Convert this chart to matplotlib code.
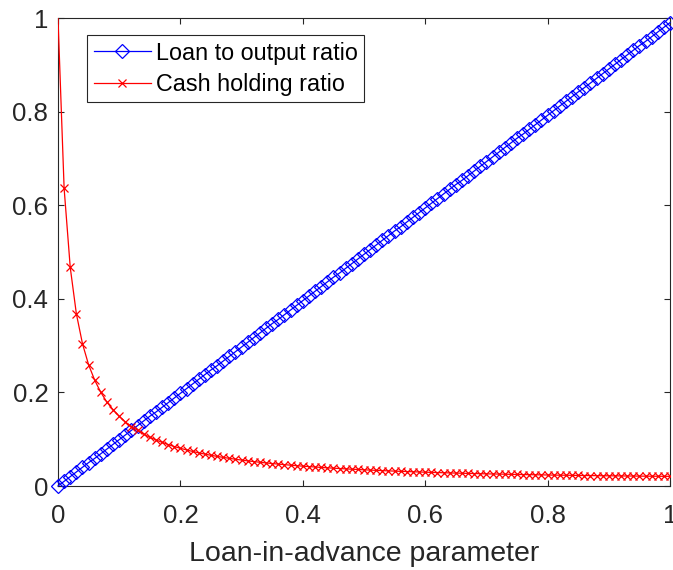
import numpy as np
import matplotlib
matplotlib.use("Agg")
import matplotlib.pyplot as plt
from matplotlib.ticker import FixedLocator, FuncFormatter

plt.rcParams['font.family'] = ['Liberation Sans', 'DejaVu Sans']

# Loan-in-advance parameter grid (0 to 1 in steps of 0.01)
loan_param = np.round(np.arange(101) * 0.01, 2)

loan_to_output = [
    0.000, 0.010, 0.020, 0.030, 0.040, 0.050, 0.059, 0.069, 0.079, 0.089,
    0.099, 0.109, 0.119, 0.129, 0.139, 0.149, 0.158, 0.168, 0.178, 0.188,
    0.198, 0.208, 0.218, 0.228, 0.238, 0.248, 0.257, 0.267, 0.277, 0.287,
    0.297, 0.307, 0.317, 0.327, 0.337, 0.347, 0.356, 0.366, 0.376, 0.386,
    0.396, 0.406, 0.416, 0.426, 0.436, 0.446, 0.455, 0.465, 0.475, 0.485,
    0.495, 0.505, 0.515, 0.525, 0.535, 0.545, 0.554, 0.564, 0.574, 0.584,
    0.594, 0.604, 0.614, 0.624, 0.634, 0.644, 0.653, 0.663, 0.673, 0.683,
    0.693, 0.703, 0.713, 0.723, 0.733, 0.743, 0.752, 0.762, 0.772, 0.782,
    0.792, 0.802, 0.812, 0.822, 0.832, 0.842, 0.851, 0.861, 0.871, 0.881,
    0.891, 0.901, 0.911, 0.921, 0.931, 0.941, 0.950, 0.960, 0.970, 0.980,
    0.990,
]

cash_holding = [
    1.000, 0.636, 0.467, 0.368, 0.304, 0.259, 0.226, 0.200, 0.179, 0.163,
    0.149, 0.137, 0.127, 0.119, 0.111, 0.104, 0.0986, 0.0933, 0.0886, 0.0843,
    0.0806, 0.0771, 0.0738, 0.0709, 0.0681, 0.0656, 0.0633, 0.0611, 0.0591, 0.0572,
    0.0554, 0.0537, 0.0522, 0.0507, 0.0493, 0.0480, 0.0468, 0.0456, 0.0445, 0.0434,
    0.0424, 0.0415, 0.0406, 0.0397, 0.0389, 0.0381, 0.0373, 0.0366, 0.0359, 0.0353,
    0.0346, 0.0340, 0.0334, 0.0329, 0.0323, 0.0318, 0.0313, 0.0309, 0.0304, 0.0300,
    0.0295, 0.0291, 0.0287, 0.0283, 0.0280, 0.0276, 0.0273, 0.0269, 0.0266, 0.0263,
    0.0260, 0.0257, 0.0255, 0.0252, 0.0249, 0.0247, 0.0244, 0.0242, 0.0240, 0.0238,
    0.0235, 0.0233, 0.0231, 0.0230, 0.0228, 0.0226, 0.0224, 0.0223, 0.0221, 0.0219,
    0.0218, 0.0217, 0.0215, 0.0214, 0.0213, 0.0211, 0.0210, 0.0209, 0.0208, 0.0207,
    0.0206,
]

ticks = [0, 0.2, 0.4, 0.6, 0.8, 1]
series_labels = ["Loan to output ratio", "Cash holding ratio"]
x_label = "Loan-in-advance parameter"

W, H = 673, 570
fig = plt.figure(figsize=(W / 100, H / 100), dpi=100)
ax = fig.add_axes([58 / W, (H - 486) / H, 612 / W, 468 / H])

dark = (0.15, 0.15, 0.15)

ax.plot(loan_param, loan_to_output, color=(0, 0, 1), lw=0.9, marker='D',
        ms=7.5, mfc='none', mec=(0, 0, 1), mew=0.9, clip_on=False,
        label=series_labels[0], zorder=3)
ax.plot(loan_param, cash_holding, color=(1, 0, 0), lw=0.9, marker='x',
        ms=6.3, mec=(1, 0, 0), mew=0.9, markevery=list(range(1, len(loan_param))),
        label=series_labels[1], zorder=3)

ax.set_xlim(0, 1)
ax.set_ylim(0, 1)
ax.xaxis.set_major_locator(FixedLocator(ticks))
ax.yaxis.set_major_locator(FixedLocator(ticks))
fmt = FuncFormatter(lambda v, p: ('%g' % round(v, 2)))
ax.xaxis.set_major_formatter(fmt)
ax.yaxis.set_major_formatter(fmt)

for s in ax.spines.values():
    s.set_color(dark)
    s.set_linewidth(0.8)

ax.tick_params(axis='both', which='major', direction='in', length=4,
               width=0.8, color=dark, labelcolor=dark, labelsize=18.6,
               top=True, right=True)
ax.tick_params(axis='x', pad=13)
ax.tick_params(axis='y', pad=7)

ax.set_xlabel(x_label, fontsize=20.5, color=dark, labelpad=9)

leg = ax.legend(loc='upper left', bbox_to_anchor=(0.0474, 0.9637),
                borderaxespad=0, fontsize=16.8, frameon=True, fancybox=False,
                framealpha=1, edgecolor=dark, numpoints=1,
                handlelength=2.45, handletextpad=0.21, borderpad=0.28,
                labelspacing=0.36)
leg.get_frame().set_linewidth(0.8)

fig.savefig("out.png", dpi=100)
